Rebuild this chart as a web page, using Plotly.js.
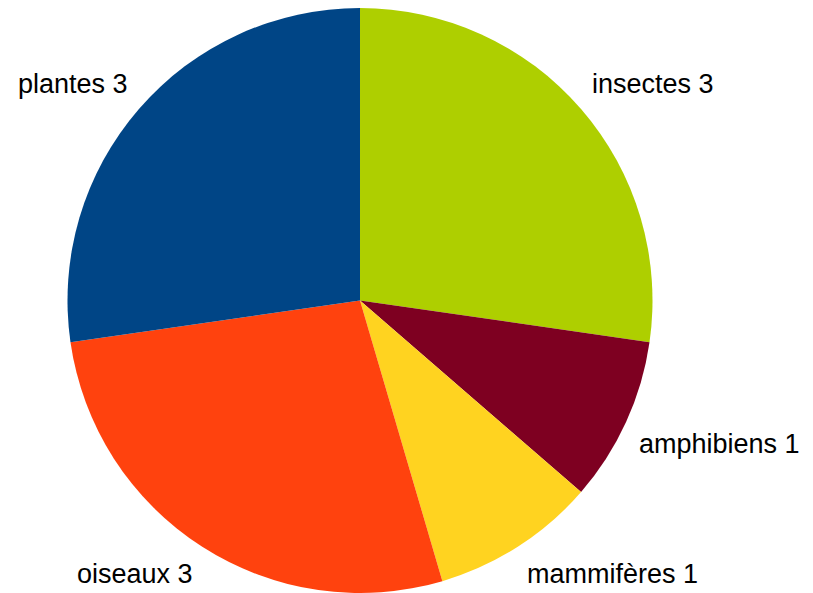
<!DOCTYPE html>
<html>
<head>
<meta charset="utf-8">
<script src="https://cdn.plot.ly/plotly-3.0.1.min.js"></script>
<style>html,body{margin:0;padding:0;background:#fff;}#chart{width:813px;height:593px;}</style>
</head>
<body>
<div id="chart"></div>
<script>
const categories = ["insectes", "amphibiens", "mammifères", "oiseaux", "plantes"];
const values = [3, 1, 1, 3, 3];
const colors = ["#aecf00", "#7e0021", "#ffd320", "#ff420e", "#004586"];

const W = 813, H = 593;
const domX = [0, 0.8856], domY = [0, 0.9865];

const trace = {
  type: "pie",
  labels: categories,
  values: values,
  sort: false,
  direction: "clockwise",
  rotation: 0,
  marker: {colors: colors, line: {width: 0}},
  textinfo: "none",
  hoverinfo: "label+value",
  domain: {x: domX, y: domY}
};

// Labels placed outside the pie, along each slice's middle angle (as LibreOffice does)
const cx = W * (domX[0] + domX[1]) / 2;
const cy = H * (1 - (domY[0] + domY[1]) / 2);
const R = Math.min(W * (domX[1] - domX[0]), H * (domY[1] - domY[0])) / 2;
const labelR = R + 12;
const total = values.reduce((a, b) => a + b, 0);
let cum = 0;
const annotations = categories.map((c, i) => {
  const mid = (cum + values[i] / 2) / total * 2 * Math.PI;
  cum += values[i];
  const sx = cx + labelR * Math.sin(mid);
  const sy = cy - labelR * Math.cos(mid);
  return {
    text: c + " " + values[i],
    xref: "paper", yref: "paper",
    x: sx / W, y: 1 - sy / H,
    xanchor: Math.sin(mid) >= 0 ? "left" : "right",
    yanchor: Math.cos(mid) >= 0 ? "bottom" : "top",
    showarrow: false,
    font: {family: "Liberation Sans, Arial, sans-serif", size: 27, color: "#000"}
  };
});

Plotly.newPlot("chart", [trace], {
  width: W, height: H,
  margin: {l: 0, r: 0, t: 0, b: 0},
  showlegend: false,
  paper_bgcolor: "#fff",
  annotations: annotations
}, {displayModeBar: false, staticPlot: true});
</script>
</body>
</html>
